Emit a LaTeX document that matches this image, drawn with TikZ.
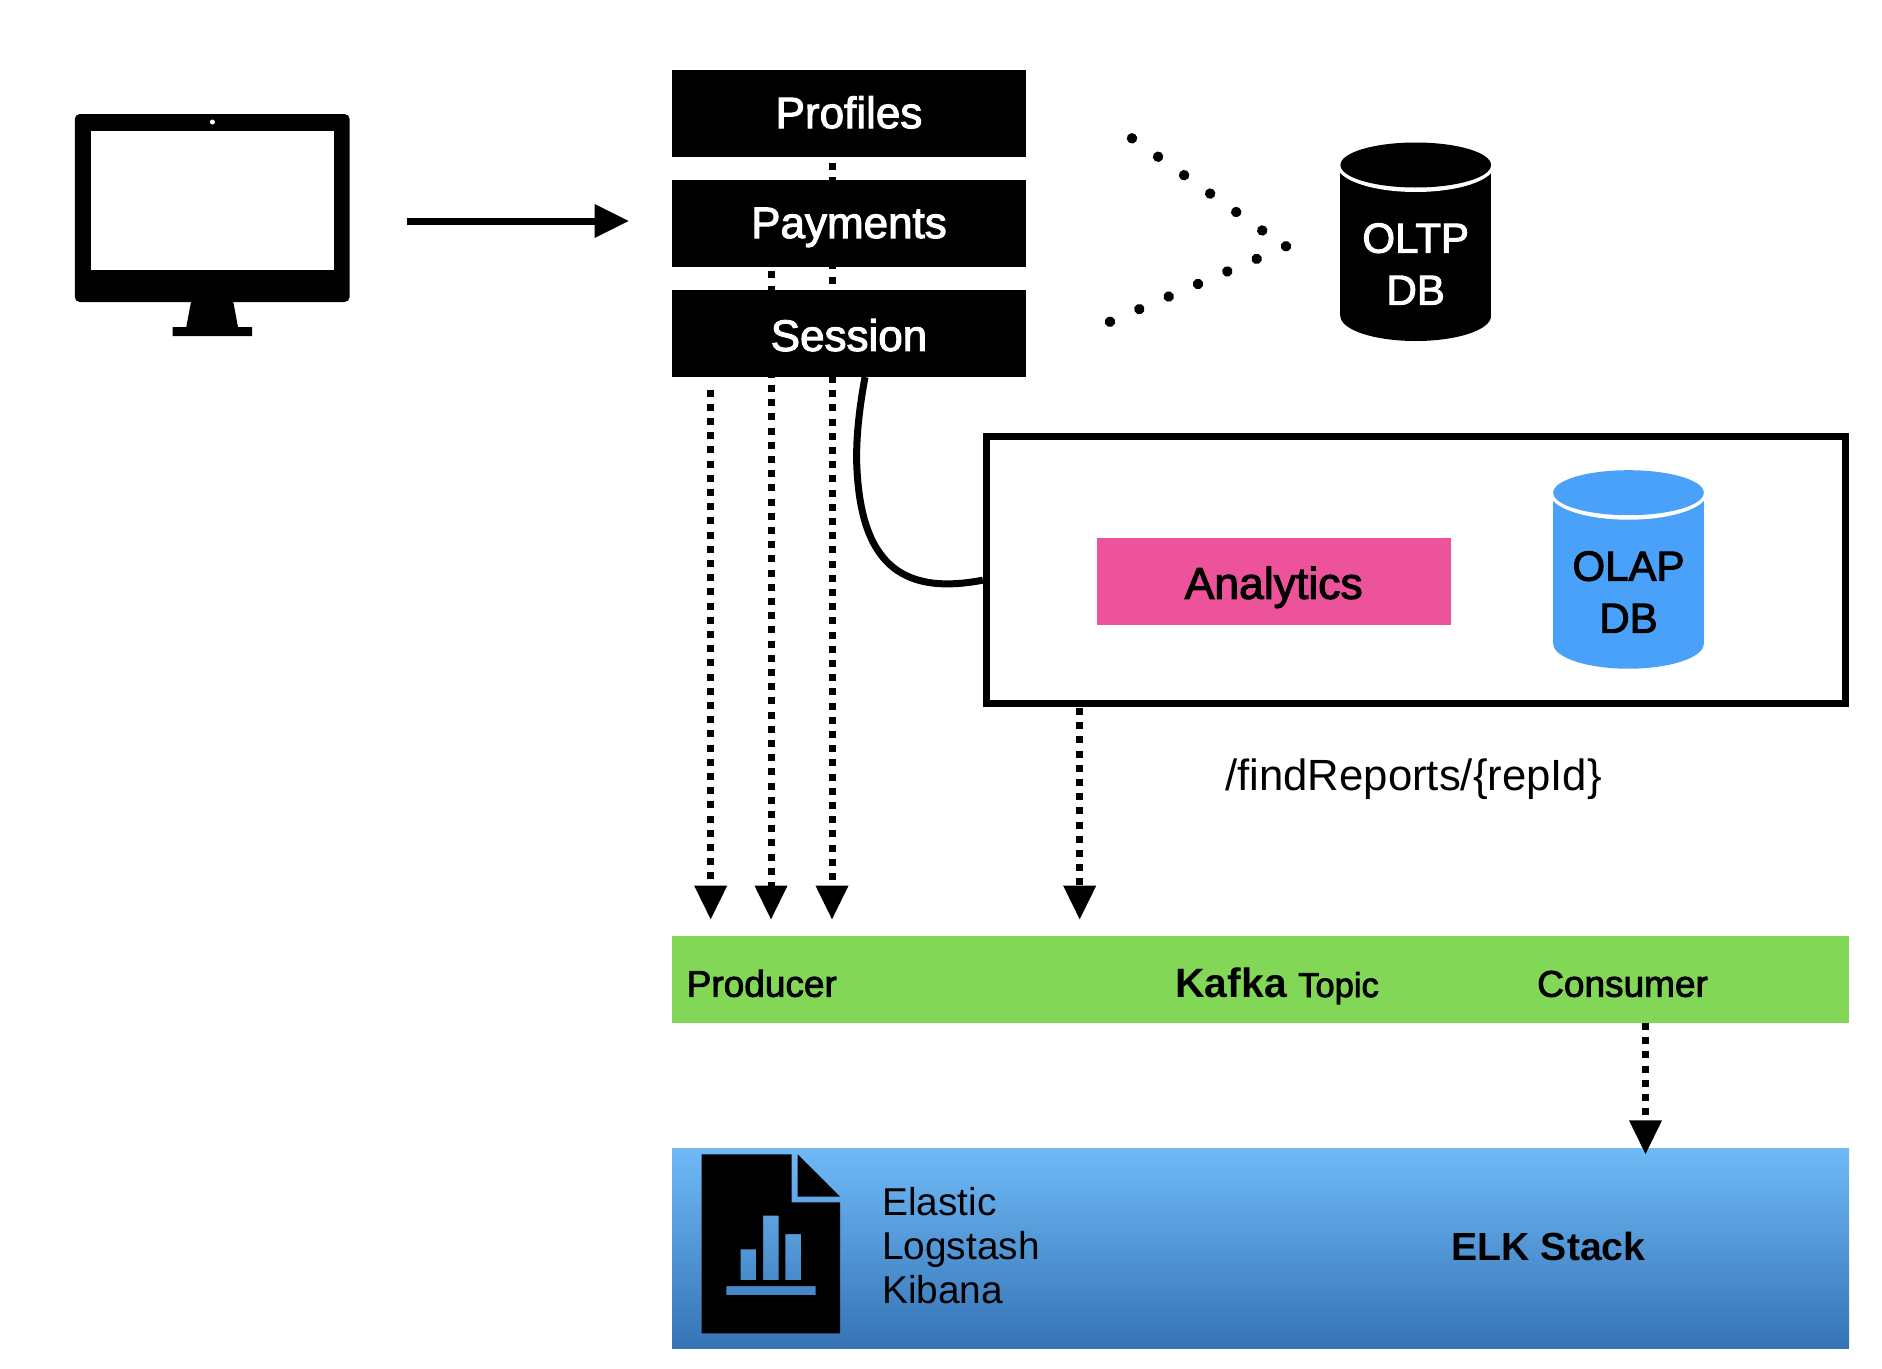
\documentclass[tikz,border=0pt]{standalone}
\usepackage{fontspec}
\setmainfont{Liberation Sans}
\newfontfamily\medfont[FakeBold=2.4]{Liberation Sans}
\usetikzlibrary{positioning, shapes.geometric, arrows.meta, backgrounds}

\definecolor{kafkagreen}{HTML}{83D757}
\definecolor{analyticspink}{HTML}{EC539B}
\definecolor{olapblue}{HTML}{49A1F9}
\definecolor{elktop}{HTML}{6FB9F6}
\definecolor{elkbottom}{HTML}{3573B5}

\begin{document}
\begin{tikzpicture}[
    x=1pt, y=-1pt,
    stackbox/.style={fill=black, text=white, rectangle, minimum width=354pt, minimum height=87.5pt, inner sep=0pt, outer sep=0pt, text height=29pt, text depth=0pt, font=\medfont\fontsize{44}{52}\selectfont},
    framebox/.style={draw=black, line width=7pt, rectangle, minimum width=859pt, minimum height=266.7pt, inner sep=0pt},
    analyticsbox/.style={fill=analyticspink, rectangle, minimum width=354pt, minimum height=87.3pt, inner sep=0pt, outer sep=0pt, text height=35pt, text depth=0pt, font=\medfont\fontsize{44.5}{52}\selectfont},
    kafkabar/.style={fill=kafkagreen, rectangle, minimum width=1177pt, minimum height=87.3pt, inner sep=0pt, outer sep=0pt},
    elkbar/.style={top color=elktop, bottom color=elkbottom, rectangle, minimum width=1177pt, minimum height=199.7pt, inner sep=0pt, outer sep=0pt},
    dblabel/.style={align=center, inner sep=0pt, font=\medfont\fontsize{42}{52}\selectfont},
    barlabel/.style={anchor=base west, inner sep=0pt, font=\medfont\fontsize{37}{44}\selectfont},
    plainlabel/.style={inner sep=0pt, font=\fontsize{38.8}{44}\selectfont},
    boldlabel/.style={anchor=base west, inner sep=0pt, font=\bfseries\fontsize{39.2}{44}\selectfont},
    solidarrow/.style={line width=7pt, -{Triangle[length=34pt, width=34pt, line width=0pt]}},
    dotarrow/.style={line width=7pt, dash pattern=on 7pt off 7.2pt, -{Triangle[length=33.6pt, width=33pt, line width=0pt]}},
    dotline/.style={line width=10.5pt, line cap=round, dash pattern=on 0.01pt off 31.9pt},
    dbdrum/.pic={
        \fill[pic actions] (-75.3,0) rectangle (75.3,151);
        \fill[pic actions] (0,151) ellipse [x radius=75.3, y radius=25];
        \fill[white] (0,0) ellipse [x radius=79, y radius=27];
        \fill[pic actions] (0,0) ellipse [x radius=75.3, y radius=22.5];
    }
]
\useasboundingbox (0,0) rectangle (1882,1368);

% Monitor
\node[fill=black, rectangle, rounded corners=5pt, minimum width=274.8pt, minimum height=188pt, inner sep=0pt, outer sep=0pt] (monitor) at (212.2,208) {};
\node[fill=white, rectangle, minimum width=243pt, minimum height=139pt, inner sep=0pt] (screen) at (212.6,200.5) {};
\node[fill=white, circle, minimum size=5pt, inner sep=0pt] (camera) at (212.4,122) {};
\fill[black] (191,302) -- (233.3,302) -- (238,327) -- (252,327) -- (252,336) -- (172.5,336) -- (172.5,327) -- (186.3,327) -- cycle;

% Service stack
\node[stackbox] (profiles) at (849,113.6) {Profiles};
\node[stackbox, below=22.4pt of profiles] (payments) {Payments};
\node[stackbox, below=22.4pt of payments, text height=35pt] (session) {Session};

% OLTP
\pic[fill=black] at (1415.7,165) {dbdrum};
\node[dblabel, text=white] (oltp) at (1415.7,264) {OLTP\\DB};
\coordinate (dotstart) at (1132,138.3);
\coordinate (dotmid) at (1263,231);
\coordinate (dotjoin) at (1286,246.3);
\coordinate (dotend) at (1110,321.7);

% Analytics frame
\node[framebox] (frame) at (1415.8,569.65) {};
\node[analyticsbox] (analytics) at (1273.7,581.3) {Analytics};
\pic[fill=olapblue] at (1628.5,492.7) {dbdrum};
\node[dblabel] (olap) at (1628.5,592) {OLAP\\DB};
\node[inner sep=0pt, font=\fontsize{43.7}{52}\selectfont] (endpoint) at (1413.6,779) {/findReports/\{repId\}};

% Kafka
\node[kafkabar] (kafka) at (1260.5,979.35) {};
\node[barlabel] (producer) at (686.5,996.7) {Producer};
\node[anchor=base west, inner sep=0pt, font=\bfseries\fontsize{41}{44}\selectfont] (kafkaname) at (1175,997) {Kafka};
\node[anchor=base west, inner sep=0pt, font=\medfont\fontsize{34.5}{44}\selectfont] (topic) at (1298,997) {Topic};
\node[barlabel] (consumer) at (1537,996.7) {Consumer};

% ELK
\node[elkbar, below=125.3pt of kafka] (elk) {};
\fill[black, even odd rule] (701.7,1154.3) -- (791.7,1154.3) -- (791.7,1202.3) -- (840,1202.3) -- (840,1333.3) -- (701.7,1333.3) -- cycle
    (740.7,1249.3) rectangle (756,1280)
    (763,1215.7) rectangle (778.7,1280)
    (785.3,1234) rectangle (801,1280)
    (726.3,1286) rectangle (815.7,1295);
\fill[black] (797.7,1154.3) -- (840,1196.7) -- (797.7,1196.7) -- cycle;
\node[plainlabel, anchor=base west, align=left] (stacknames) at (882,1303.3) {Elastic\\Logstash\\Kibana};
\node[boldlabel] (elkname) at (1451.5,1260) {ELK Stack};

% Columns of the dotted arrows
\coordinate (col1) at (710.7,0);
\coordinate (col2) at (771,0);
\coordinate (col3) at (832,0);
\coordinate (col4) at (1079.7,0);
\coordinate (col5) at (1645.5,0);

% Arrows
\draw[solidarrow, shorten <=57pt, shorten >=43.4pt] ([yshift=-13pt]monitor.east) -- ([yshift=2.5pt]payments.west);
\begin{scope}[on background layer]
\draw[dotarrow, shorten <=12.5pt, shorten >=16.4pt] (session.south -| col1) -- (kafka.north -| col1);
\draw[dotarrow, shorten <=4.2pt, shorten >=16.4pt] (payments.south -| col2) -- (kafka.north -| col2);
\draw[dotarrow, shorten <=5.7pt, shorten >=16.4pt] (profiles.south -| col3) -- (kafka.north -| col3);
\end{scope}
\draw[dotarrow, shorten <=1.5pt, shorten >=16.4pt] (frame.south -| col4) -- (kafka.north -| col4);
\draw[dotarrow, shorten >=-5.7pt] (kafka.south -| col5) -- (elk.north -| col5);
\draw[line width=7pt] ([xshift=16pt]session.south) .. controls +(-5,27) and (856,435) .. (856.7,463) .. controls (860,562) and (900,596) .. ([yshift=-10.5pt]frame.west);

% Dots towards the OLTP store
\draw[dotline] (dotstart) -- (dotmid);
\draw[dotline] (dotjoin) -- (dotend);

\end{tikzpicture}
\end{document}
